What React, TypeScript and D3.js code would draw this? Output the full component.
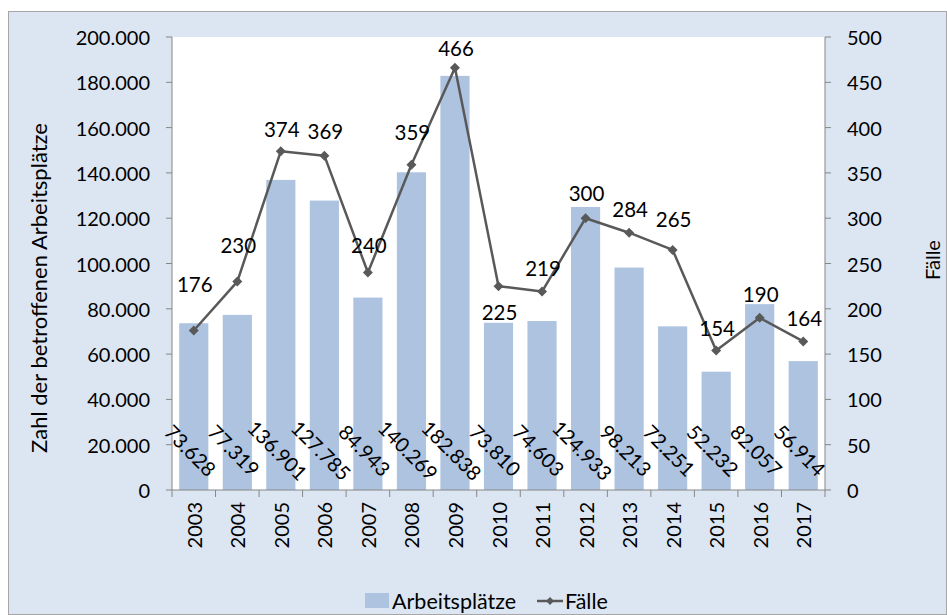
import React from "react";
import * as d3 from "d3";

const years = ["2003","2004","2005","2006","2007","2008","2009","2010","2011","2012","2013","2014","2015","2016","2017"];
const arbeitsplaetze = [73628,77319,136901,127785,84943,140269,182838,73810,74603,124933,98213,72251,52232,82057,56914];
const faelle = [176,230,374,369,240,359,466,225,219,300,284,265,154,190,164];
const leftTicks = [0,20000,40000,60000,80000,100000,120000,140000,160000,180000,200000];
const rightTicks = [0,50,100,150,200,250,300,350,400,450,500];
// label vertical offsets (px) for line data labels
const faelleLabelDy = [-47,-37,-22,-25,-28,-33,-20,26,-24,-25,-24,-31,-22,-24,-23];

const W = 947, H = 615;
const plot = { left: 172, right: 825, top: 37, bottom: 490 };
const FONT = "Lato, 'Open Sans', sans-serif";
const fmt = (v: number) => d3.format(",")(v).replace(/,/g, ".");

export default function App() {
  const x = d3.scaleBand<string>().domain(years).range([plot.left, plot.right]).paddingInner(0.33).paddingOuter(0.165);
  const xb = d3.scaleBand<string>().domain(years).range([plot.left, plot.right]);
  const yL = d3.scaleLinear().domain([0, 200000]).range([plot.bottom, plot.top]);
  const yR = d3.scaleLinear().domain([0, 500]).range([plot.bottom, plot.top]);
  const line = d3.line<number>().x((_, i) => xb(years[i])! + xb.bandwidth() / 2).y((d) => yR(d));
  const axisColor = "#868686";
  const barColor = "#adc3e0";
  const lineColor = "#595959";
  const fs = 20;

  return (
    <svg width={W} height={H} style={{ position: "absolute", left: 0, top: 0 }} fontFamily={FONT}>
      <rect x={8.5} y={11.5} width={W - 9} height={H - 12} fill="#dce6f2" stroke="#a6a6a6" />
      <rect x={plot.left} y={plot.top} width={plot.right - plot.left} height={plot.bottom - plot.top} fill="#fff" />
      {years.map((yr, i) => (
        <rect key={yr} x={x(yr)} y={yL(arbeitsplaetze[i])} width={x.bandwidth()} height={plot.bottom - yL(arbeitsplaetze[i])} fill={barColor} />
      ))}
      {/* axes */}
      <line x1={plot.left} x2={plot.left} y1={plot.top} y2={plot.bottom} stroke={axisColor} />
      <line x1={plot.right} x2={plot.right} y1={plot.top} y2={plot.bottom} stroke={axisColor} />
      <line x1={plot.left} x2={plot.right} y1={plot.bottom} y2={plot.bottom} stroke={axisColor} />
      {leftTicks.map((t) => (
        <g key={"l" + t}>
          <line x1={plot.left - 6} x2={plot.left} y1={yL(t)} y2={yL(t)} stroke={axisColor} />
          <text x={plot.left - 22} y={yL(t)} textAnchor="end" dominantBaseline="central" fontSize={fs} fill="#000">{fmt(t)}</text>
        </g>
      ))}
      {rightTicks.map((t) => (
        <g key={"r" + t}>
          <line x1={plot.right} x2={plot.right + 6} y1={yR(t)} y2={yR(t)} stroke={axisColor} />
          <text x={plot.right + 22} y={yR(t)} textAnchor="start" dominantBaseline="central" fontSize={fs} fill="#000">{t}</text>
        </g>
      ))}
      {years.map((yr) => (
        <line key={"xt" + yr} x1={xb(yr)} x2={xb(yr)} y1={plot.bottom} y2={plot.bottom + 7} stroke={axisColor} />
      ))}
      <line x1={plot.right} x2={plot.right} y1={plot.bottom} y2={plot.bottom + 7} stroke={axisColor} />
      {years.map((yr) => {
        const cx = xb(yr)! + xb.bandwidth() / 2;
        return (
          <text key={"yl" + yr} transform={`translate(${cx},${plot.bottom + 12}) rotate(-90)`} textAnchor="end" dominantBaseline="central" fontSize={fs} fill="#000">{yr}</text>
        );
      })}
      {/* bar labels */}
      {years.map((yr, i) => {
        const cx = xb(yr)! + xb.bandwidth() / 2 - 3;
        return (
          <text key={"bl" + yr} transform={`translate(${cx},450) rotate(45)`} textAnchor="middle" dominantBaseline="central" fontSize={fs} fill="#000">{fmt(arbeitsplaetze[i])}</text>
        );
      })}
      {/* line */}
      <path d={line(faelle)!} fill="none" stroke={lineColor} strokeWidth={2.5} strokeLinejoin="round" />
      {faelle.map((v, i) => {
        const cx = xb(years[i])! + xb.bandwidth() / 2;
        const cy = yR(v);
        return <path key={"m" + i} d={`M${cx},${cy - 5}L${cx + 5},${cy}L${cx},${cy + 5}L${cx - 5},${cy}Z`} fill={lineColor} />;
      })}
      {faelle.map((v, i) => {
        const cx = xb(years[i])! + xb.bandwidth() / 2 + 1;
        const cy = yR(v) + faelleLabelDy[i];
        return <text key={"fl" + i} x={cx} y={cy} textAnchor="middle" dominantBaseline="central" fontSize={fs + 0.5} fill="#000">{v}</text>;
      })}
      {/* axis titles */}
      <text transform={`translate(38,288) rotate(-90)`} textAnchor="middle" dominantBaseline="central" fontSize={22} fill="#000">Zahl der betroffenen Arbeitsplätze</text>
      <text transform={`translate(932,260) rotate(-90)`} textAnchor="middle" dominantBaseline="central" fontSize={20} fill="#000">Fälle</text>
      {/* legend */}
      <rect x={365} y={593} width={24} height={15} fill={barColor} />
      <text x={392} y={601} dominantBaseline="central" fontSize={21.5} fill="#000">Arbeitsplätze</text>
      <line x1={537} x2={563} y1={601} y2={601} stroke={lineColor} strokeWidth={2.5} />
      <path d="M550,597L554,601L550,605L546,601Z" fill={lineColor} />
      <text x={565} y={601} dominantBaseline="central" fontSize={21.5} fill="#000">Fälle</text>
    </svg>
  );
}
